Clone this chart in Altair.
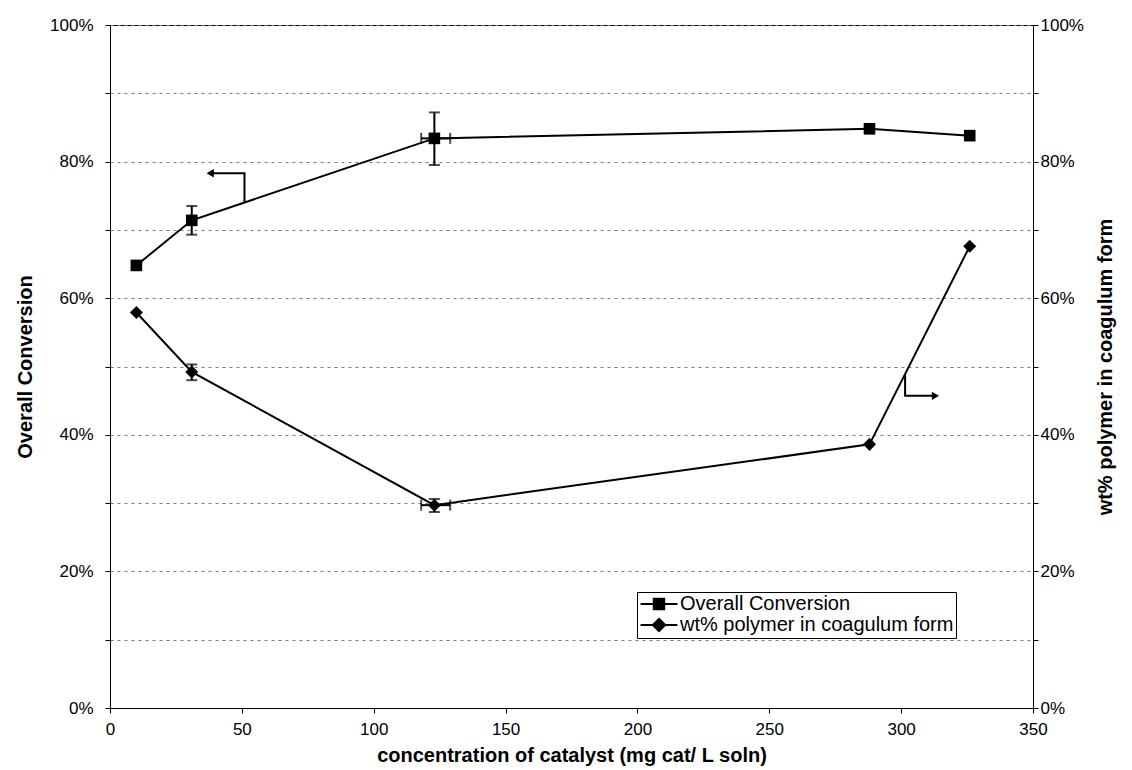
import altair as alt
import pandas as pd

FONT = "Liberation Sans"

# ---- data ----
conc = [10, 31, 123, 288, 326]
conversion = [0.648, 0.714, 0.834, 0.848, 0.838]
coagulum = [0.579, 0.492, 0.297, 0.386, 0.676]

# vertical error bars
err_conc = [31, 123]
conv_lo = [0.693, 0.795]
conv_hi = [0.735, 0.872]
coag_lo = [0.480, 0.287]
coag_hi = [0.503, 0.306]

# horizontal error bars (at 123 mg/L)
xerr_center = [123]
xerr_lo = [118]
xerr_hi = [129]
xerr_conv = [0.834]
xerr_coag = [0.297]

# annotation arrows (data coordinates)
arrowL_x = [51, 51, 38]
arrowL_y = [0.741, 0.783, 0.783]
arrowR_x = [301.5, 301.5, 313]
arrowR_y = [0.488, 0.457, 0.457]

series_names = ["Overall Conversion", "wt% polymer in coagulum form"]

# ---- tables ----
conv_df = pd.DataFrame({"conc": conc, "val": conversion})
coag_df = pd.DataFrame({"conc": conc, "val": coagulum})
conv_err = pd.DataFrame({"conc": err_conc, "lo": conv_lo, "hi": conv_hi})
coag_err = pd.DataFrame({"conc": err_conc, "lo": coag_lo, "hi": coag_hi})
conv_xerr = pd.DataFrame({"c": xerr_center, "xlo": xerr_lo, "xhi": xerr_hi, "val": xerr_conv})
coag_xerr = pd.DataFrame({"c": xerr_center, "xlo": xerr_lo, "xhi": xerr_hi, "val": xerr_coag})
arrL = pd.DataFrame({"x": arrowL_x, "y": arrowL_y, "i": [0, 1, 2]})
arrR = pd.DataFrame({"x": arrowR_x, "y": arrowR_y, "i": [0, 1, 2]})
leg_df = pd.DataFrame({"series": series_names})

x_scale = alt.Scale(domain=[0, 350], nice=False, zero=False)
y_scale = alt.Scale(domain=[0, 1], nice=False, zero=False)
y_vals = [i / 10 for i in range(11)]
lab_expr = "round(datum.value*100) % 20 == 0 ? format(datum.value, '.0%') : ''"

x_axis = alt.Axis(values=list(range(0, 351, 50)), grid=False, tickSize=5,
                  labelPadding=8, labelFontSize=17, labelFont=FONT, labelFlush=False,
                  title="concentration of catalyst (mg cat/ L soln)",
                  titleFont=FONT, titleFontSize=20, titleFontWeight="bold", titlePadding=8,
                  domainColor="black", tickColor="black", labelColor="black", titleColor="black")
left_axis = alt.Axis(values=y_vals, labelExpr=lab_expr, grid=True, gridDash=[3, 4],
                     gridColor="#7a7a7a", gridWidth=1, tickSize=5, labelPadding=12,
                     labelFont=FONT, labelFontSize=17, labelFlush=False,
                     title="Overall Conversion",
                     titleFont=FONT, titleFontSize=20,
                     titleFontWeight="bold", titlePadding=14, domainColor="black",
                     tickColor="black", labelColor="black", titleColor="black")
right_axis = alt.Axis(orient="right", values=y_vals, labelExpr=lab_expr, grid=False,
                      tickSize=5, labelPadding=2, labelFont=FONT, labelFontSize=17,
                      labelFlush=False,
                      title="wt% polymer in coagulum form", titleFont=FONT, titleFontSize=20,
                      titleFontWeight="bold", titlePadding=32, titleAngle=270,
                      domainColor="black", tickColor="black", labelColor="black", titleColor="black")


def X(f):
    return alt.X(f, scale=x_scale, axis=x_axis)


def Y(f, ax=None):
    if ax is None:
        return alt.Y(f, scale=y_scale, axis=None)
    return alt.Y(f, scale=y_scale, axis=ax)


def series_layers(df, err, xerr, arr, shape, size, y_axis, head_shape):
    base = alt.Chart(df)
    line = base.mark_line(color="black", strokeWidth=2).encode(
        x=X("conc:Q"), y=Y("val:Q", y_axis))
    pts = base.mark_point(shape=shape, filled=True, size=size, color="black", opacity=1).encode(
        x=X("conc:Q"), y=Y("val:Q"))
    e = alt.Chart(err)
    vbar = e.mark_rule(color="black", strokeWidth=2).encode(
        x=X("conc:Q"), y=Y("lo:Q"), y2="hi:Q")
    cap_lo = e.mark_tick(orient="horizontal", size=11, thickness=2, color="black").encode(
        x=X("conc:Q"), y=Y("lo:Q"))
    cap_hi = e.mark_tick(orient="horizontal", size=11, thickness=2, color="black").encode(
        x=X("conc:Q"), y=Y("hi:Q"))
    xe = alt.Chart(xerr)
    hbar = xe.mark_rule(color="black", strokeWidth=2).encode(
        x=X("xlo:Q"), x2="xhi:Q", y=Y("val:Q"))
    xcap_lo = xe.mark_tick(orient="vertical", size=11, thickness=2, color="black").encode(
        x=X("xlo:Q"), y=Y("val:Q"))
    xcap_hi = xe.mark_tick(orient="vertical", size=11, thickness=2, color="black").encode(
        x=X("xhi:Q"), y=Y("val:Q"))
    a = alt.Chart(arr)
    aline = a.mark_line(color="black", strokeWidth=2).encode(
        x=X("x:Q"), y=Y("y:Q"), order="i:Q")
    ahead = a.transform_filter("datum.i == 2").mark_point(
        shape=head_shape, filled=True, size=70, color="black", opacity=1).encode(
        x=X("x:Q"), y=Y("y:Q"))
    return [line, vbar, cap_lo, cap_hi, hbar, xcap_lo, xcap_hi, pts, aline, ahead]


conv_layers = series_layers(conv_df, conv_err, conv_xerr, arrL, "square", 135, left_axis,
                            "triangle-left")
coag_layers = series_layers(coag_df, coag_err, coag_xerr, arrR, "diamond", 170, right_axis,
                            "triangle-right")


def nested(poly, hs):
    parts = ["M-2.05,0H2.05"]
    for s in hs:
        if poly == "square":
            parts.append(f"M{-s},{-s}H{s}V{s}H{-s}Z")
        else:
            parts.append(f"M0,{-s}L{s},0L0,{s}L{-s},0Z")
    return "".join(parts)


sq_path = nested("square", [0.58, 0.47, 0.36, 0.25, 0.14, 0.04])
di_path = nested("diamond", [0.69, 0.56, 0.43, 0.3, 0.17, 0.05])

legend_layer = alt.Chart(leg_df).transform_filter("false").mark_point(
    filled=False, color="black", strokeWidth=2, opacity=1).encode(
    shape=alt.Shape("series:N", scale=alt.Scale(domain=series_names, range=[sq_path, di_path]),
                    legend=alt.Legend(orient="none", legendX=527, legendY=567, title=None,
                                      strokeColor="black", fillColor="white", padding=2,
                                      labelFont=FONT, labelFontSize=20, labelColor="black",
                                      symbolSize=324, symbolStrokeWidth=2,
                                      symbolStrokeColor="black", symbolOffset=10,
                                      rowPadding=0, labelOffset=11, labelLimit=500)))

chart = alt.layer(*conv_layers, *coag_layers, legend_layer).resolve_scale(
    y="independent").properties(
    width=923, height=683,
    padding={"left": 110, "top": 25, "right": 99, "bottom": 62},
    autosize=alt.AutoSizeParams(type="none"),
    background="white",
).configure_view(stroke="black", strokeWidth=1)

chart.save("out.html", embed_options={"renderer": "svg", "actions": False})
